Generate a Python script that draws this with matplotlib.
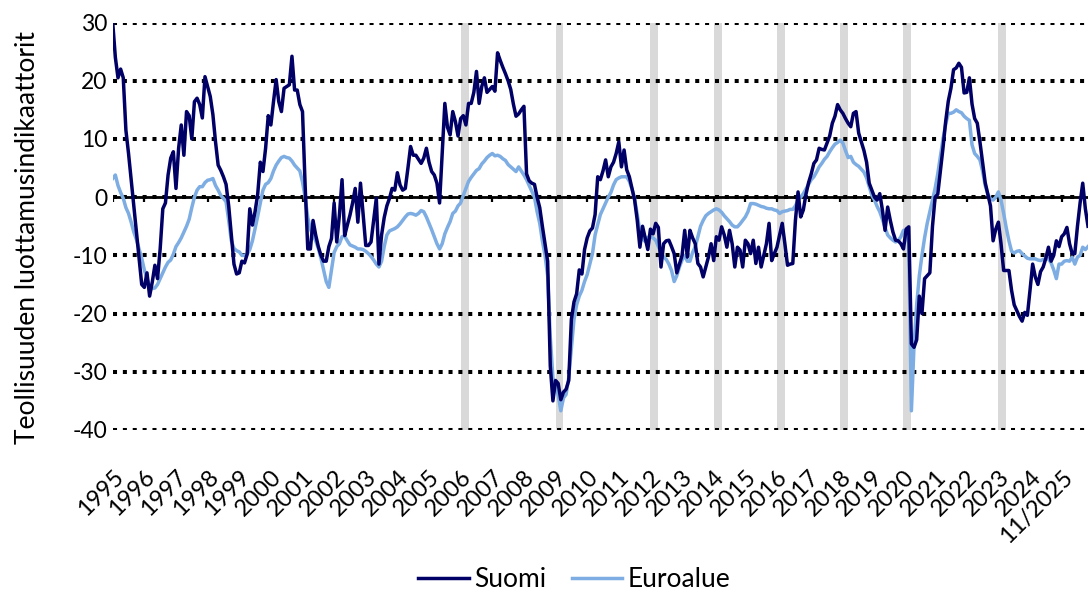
import numpy as np
import matplotlib
matplotlib.use("Agg")
import matplotlib.pyplot as plt

plt.rcParams['font.family'] = ['Lato', 'DejaVu Sans']
plt.rcParams['axes.unicode_minus'] = False

# Monthly data, Jan 1995 .. Nov 2025
suomi = [
    30, 24, 20.5, 22, 20.5, 11.5, 7.5, 3, -1.5, -6, -10.5, -15,            # 1995
    -15.5, -13, -17, -14.6, -11.7, -14, -8.9, -2, -1, 3.8, 6.7, 7.8,       # 1996
    1.5, 8.4, 12.4, 7.2, 14.7, 14, 10, 16.4, 17, 15.9, 13.6, 20.7,         # 1997
    19, 17.3, 14.2, 9.5, 5.5, 4.6, 3.5, 2.2, -1.5, -6.5, -11.5, -13.2,     # 1998
    -13, -11, -11.3, -9.8, -2, -4.8, -2.5, 0.5, 6, 4.4, 8.4, 14,           # 1999
    12.4, 16.4, 20.2, 16.4, 14.7, 18.7, 19, 19.3, 24.2, 18.4, 18.4, 15.9,  # 2000
    14.7, 2, -8.9, -8.9, -4, -6.5, -8.5, -10, -11, -11, -8.5, -7.1,        # 2001
    -1, -7.7, -3.1, 3, -6.6, -4.8, -3.1, -1, 1.5, -4.3, 2.4, -3,           # 2002
    -8.3, -8.3, -7.7, -4, -0.2, -11.5, -6.5, -3.5, -1.5, -0.2, 1.5, 1.2,   # 2003
    4.2, 2.1, 1.2, 1.5, 5, 8.7, 7.2, 7.2, 6.5, 5.8, 6.7, 8.4,              # 2004
    6, 4.4, 3.8, 2.4, -1, 7.5, 16.1, 12, 10.7, 14.7, 13, 10.5,             # 2005
    13.5, 14, 12.4, 16.1, 16.1, 18, 21.6, 16.1, 19, 20.5, 18, 18.5,        # 2006
    19, 18.2, 24.8, 23.5, 22.3, 21.2, 20, 18.5, 16, 13.9, 14.3, 15,        # 2007
    15.6, 4, 2.8, 2.4, 2.2, 0, -1.8, -5, -8, -11, -29, -35,                # 2008
    -31.5, -32, -34.8, -33.5, -33, -31.5, -21, -18, -16.6, -12.5, -13.2, -9,  # 2009
    -7, -5.8, -5.3, -3, 3.5, 3, 4.5, 6.4, 3.5, 5.2, 6, 7.5,                # 2010
    9.5, 5.2, 8.1, 4.7, 3.5, 1.5, -0.5, -4, -8.6, -5, -7, -9,              # 2011
    -5.5, -6.3, -4.5, -5.2, -12, -8, -7.5, -7.4, -8.5, -9.7, -13, -11.5,   # 2012
    -10, -5.7, -10.3, -5.7, -7, -8, -11.4, -12, -13.7, -12, -10.3, -8,     # 2013
    -10.9, -6.8, -7.4, -5.1, -6.5, -8.6, -5.7, -8, -12, -8.6, -9.1, -12,   # 2014
    -7.4, -8, -9.7, -7.4, -11.4, -8.6, -12, -10, -8, -4.5, -10.9, -9.7,    # 2015
    -8.6, -6.5, -4.5, -8, -11.7, -11.5, -11.4, -4, 0.9, -3.4, -2.2, 0.5,   # 2016
    2.5, 4, 5.8, 6.4, 8.4, 8.2, 8.1, 9.3, 10.5, 12.7, 13.9, 15.9,          # 2017
    15, 14.4, 13.5, 12.7, 12.1, 14.4, 14.7, 11, 9.5, 8, 6, 2.4,            # 2018
    1.2, 0, -0.5, 0.6, -2.2, -5.7, -1.7, -4, -6, -7.4, -7.5, -8,           # 2019
    -8.9, -5.5, -5.1, -25.2, -25.8, -24.5, -17, -20, -14, -13.5, -13, -5,  # 2020
    0, 0.5, 4.5, 8.5, 13, 16.5, 18.7, 21.9, 22.2, 23, 22.3, 17.9,          # 2021
    18, 20.5, 16, 13.5, 12.7, 9.5, 6, 2.5, 0.5, -1.5, -7.5, -5.5,          # 2022
    -4.3, -8, -12.6, -12.6, -12.6, -16, -18.5, -19.5, -20.5, -21.3, -19.8, -20.3,  # 2023
    -16, -11.5, -13.7, -15, -12.8, -12, -10.5, -8.6, -11, -10, -7.5, -8.5, # 2024
    -6.8, -6.3, -5.2, -8, -9.7, -9.7, -5, -1, 2.4, -2, -5,                 # 2025
]

euroalue = [
    3.2, 3.8, 2, 0.8, -0.2, -1.8, -2.8, -4.3, -6, -7.3, -8.9, -10.5,       # 1995
    -12.5, -14, -15.3, -15.7, -15.6, -15, -14, -13, -12, -11.2, -10.8, -9.8,  # 1996
    -8.5, -7.8, -7, -6, -5, -3.8, -1.8, 0, 1.2, 1.8, 1.8, 2.5,             # 1997
    2.9, 3, 3.2, 2, 1.2, 0.3, -0.2, -0.8, -4, -7.5, -8.8, -9.2,            # 1998
    -9.4, -10, -10, -9.8, -9, -7.5, -5.4, -3.3, -1, 1.2, 2.2, 2.5,         # 1999
    3.2, 4.5, 5.5, 6.2, 6.8, 7, 6.8, 6.7, 6.2, 5.5, 5, 4.5,                # 2000
    2.6, 0, -3.5, -5.5, -6.6, -7.5, -8.8, -10.5, -12.5, -14.5, -15.5, -12.5,  # 2001
    -9.5, -8.5, -8, -6.8, -6.7, -7.5, -8.2, -8.4, -8.6, -8.9, -8.9, -9,    # 2002
    -9.3, -9.7, -10.2, -10.8, -11.5, -12, -11, -8.5, -6.5, -5.8, -5.6, -5.4,  # 2003
    -5.1, -4.6, -4, -3.4, -2.9, -2.8, -2.9, -3.1, -2.8, -2.3, -2.5, -3.4,  # 2004
    -4.5, -5.6, -6.8, -8, -8.9, -8, -6.3, -5.2, -4.2, -2.8, -2.4, -1.5,    # 2005
    -1, 0.3, 1.5, 2.7, 3.4, 4, 4.6, 4.9, 5.7, 6.2, 6.8, 7.2,               # 2006
    7.5, 7.1, 7.2, 7, 6.6, 6.3, 5.6, 5.2, 4.8, 4.4, 5.2, 4.5,              # 2007
    3.8, 3, 2, 1, 0, -2.5, -4.5, -7.5, -10, -13.5, -24, -31,               # 2008
    -32.5, -34, -36.7, -34.5, -33.9, -31, -26, -21, -18.5, -17, -16, -14.5,  # 2009
    -13.3, -11.5, -9.7, -6.5, -4.7, -3, -2, -1, 0, 0.8, 2.1, 3,            # 2010
    3.3, 3.5, 3.5, 3.5, 2.7, 1.4, -0.3, -3, -6, -7.2, -7.6, -6.9,          # 2011
    -6.8, -7, -7.4, -8.5, -9.5, -10.3, -10.7, -11.5, -12.6, -14.5, -13.5, -12,  # 2012
    -10.8, -10, -11, -11, -9.5, -8.5, -6.8, -5, -4, -3.2, -2.8, -2.5,      # 2013
    -2.2, -2, -2.2, -2.6, -3.2, -3.7, -4.2, -4.8, -5.1, -5.1, -4.6, -4,    # 2014
    -3.4, -2.5, -1.1, -1.1, -1.2, -1.4, -1.6, -1.7, -1.9, -2, -2, -2.2,    # 2015
    -2.3, -2.8, -2.5, -2.4, -2.3, -2.1, -2.1, -1.5, -0.5, 0, 0.6, 1.4,     # 2016
    2.2, 3, 3.5, 4.3, 5.2, 5.8, 6.5, 7, 7.8, 8.5, 9.1, 9.4,                # 2017
    9.8, 9.3, 8, 6.8, 7, 6, 5.6, 5.3, 4.8, 4.3, 3.3, 1.8,                  # 2018
    0.3, -0.5, -1.6, -2.5, -3.8, -5.2, -6.5, -7, -7.4, -7.7, -7.5, -6.8,   # 2019
    -5.7, -5.8, -8, -36.7, -25.5, -18.5, -13.5, -10, -7, -4.5, -2.5, -0.5,  # 2020
    1.5, 4, 7, 10, 12.5, 14.4, 14.4, 14.6, 15, 14.7, 14.5, 13.9,           # 2021
    13.5, 13.2, 9, 7.5, 7, 6.4, 4.5, 2, 0.5, -0.3, -0.5, 0,                # 2022
    0.9, -0.5, -2.8, -5.3, -7.5, -9.3, -9.6, -9.3, -9.2, -9.7, -10.1, -10.5,  # 2023
    -10.6, -10.6, -10.6, -10.8, -10.9, -10.7, -10.6, -10.6, -11.3, -12.5, -14, -11.5,  # 2024
    -11.5, -11, -10.9, -11, -10.3, -11.5, -10.3, -10, -8.6, -9, -8.5,      # 2025
]

year_labels = [str(y) for y in range(1995, 2025)] + ["11/2025"]
bar_years = [2006, 2009, 2012, 2014, 2016, 2018, 2020, 2023]
y_ticks = [-40, -30, -20, -10, 0, 10, 20, 30]

SUOMI_C = '#000066'
EURO_C = '#7DADE2'

fig = plt.figure(figsize=(10.88, 5.94), dpi=100)
ax = fig.add_axes([0.1036, 0.2761, 0.8964, 0.6860])

x = np.arange(len(suomi))
tick_pos = [12 * i for i in range(len(year_labels))]

# gray marker bars
for yr in bar_years:
    s = 12 * (yr - 1995)
    ax.axvspan(s, s + 3, color='#d9d9d9', lw=0, zorder=0)

# gridlines
ax.set_ylim(-40, 30)
ax.set_xlim(0, 370)
ax.set_yticks(y_ticks)
ax.yaxis.grid(True, color='black', linestyle=(0, (1, 1.45)), linewidth=2.9, zorder=1)
ax.set_axisbelow(True)

# zero axis line with year tick marks
ax.axhline(0, color='black', lw=2.0, zorder=2)
ax.vlines(tick_pos, -0.9, 0, color='black', lw=1.6, zorder=2)

l1, = ax.plot(x, suomi, color=SUOMI_C, lw=2.5, zorder=4, label='Suomi',
              solid_joinstyle='round')
l2, = ax.plot(x, euroalue, color=EURO_C, lw=2.5, zorder=3, label='Euroalue',
              solid_joinstyle='round')

for s in ax.spines.values():
    s.set_visible(False)

ax.set_xticks(tick_pos)
ax.set_xticklabels(year_labels, rotation=45, ha='right', va='top',
                   rotation_mode='anchor', fontsize=17)
ax.tick_params(axis='x', length=0, pad=26)
ax.tick_params(axis='y', length=0, pad=4, labelsize=16.5)

fig.text(28 / 1088, 1 - 237 / 594, 'Teollisuuden luottamusindikaattorit',
         rotation=90, ha='center', va='center', fontsize=19)

fig.legend(handles=[l1, l2], loc='center', bbox_to_anchor=(0.528, 0.024),
           ncol=2, frameon=False, fontsize=19, handlelength=1.9,
           handletextpad=0.2, columnspacing=1.0)

fig.savefig('out.png', dpi=100)
